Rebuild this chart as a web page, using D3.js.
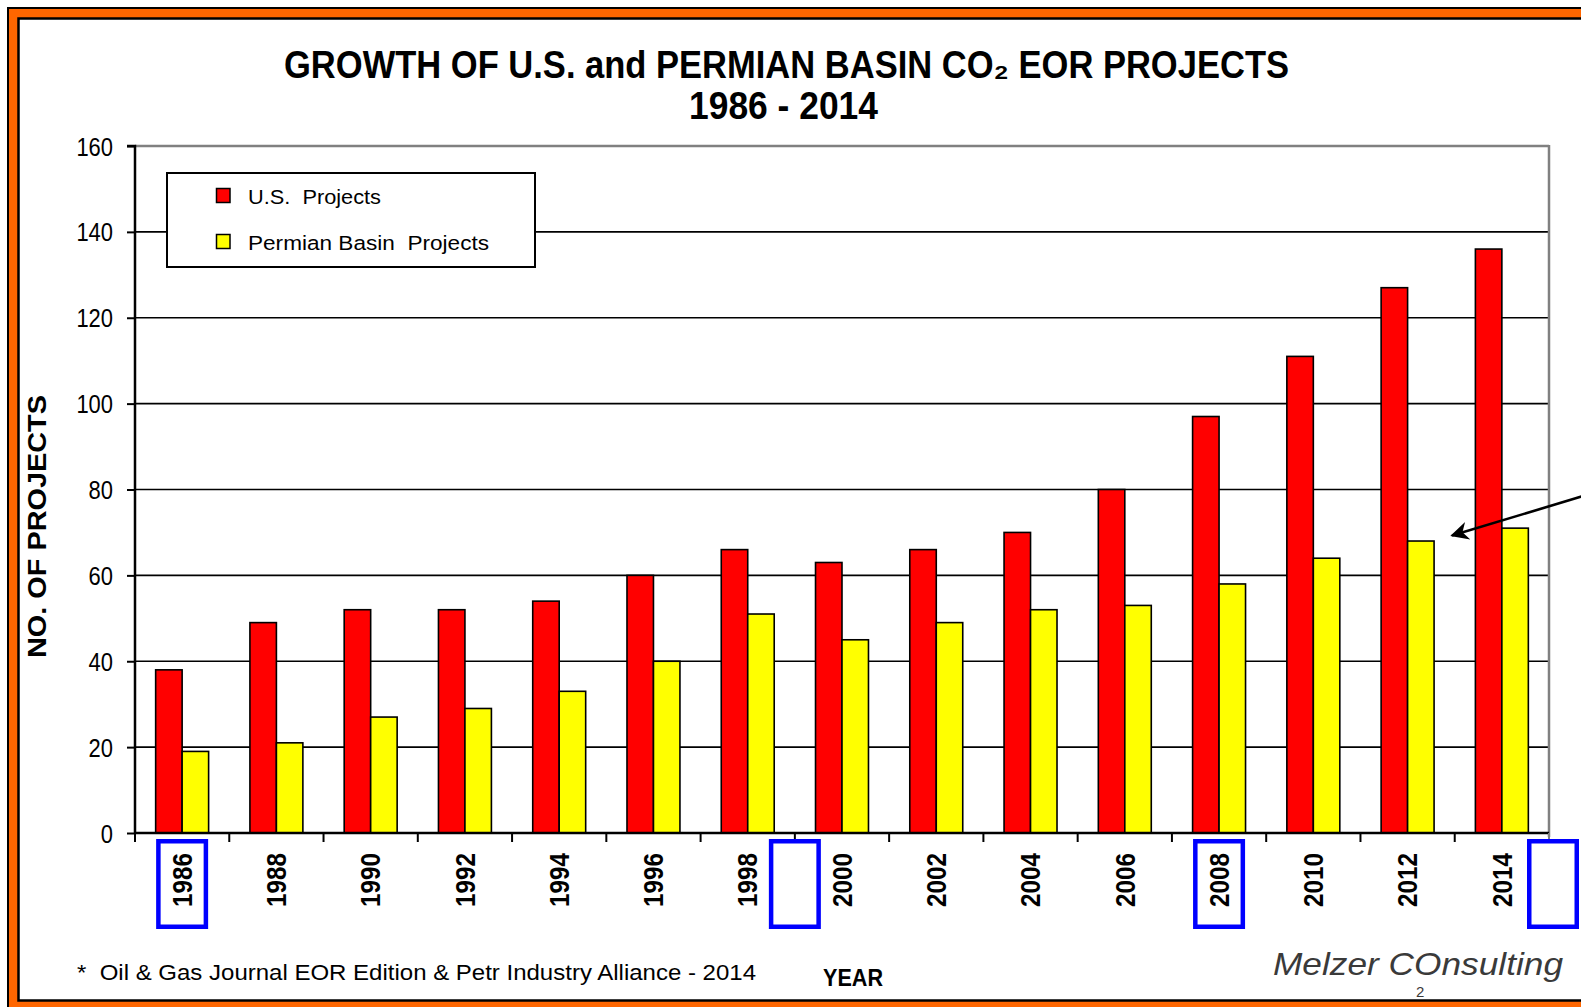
<!DOCTYPE html>
<html>
<head>
<meta charset="utf-8">
<script src="https://cdn.jsdelivr.net/npm/d3@7"></script>
<style>
html,body{margin:0;padding:0;background:#fff;overflow:hidden;}
svg{display:block;}
text{font-family:"Liberation Sans",Arial,sans-serif;}
</style>
</head>
<body>
<svg id="chart" width="1581" height="1007"></svg>
<script>
// ---------------- data ----------------
const years = ["1986","1988","1990","1992","1994","1996","1998","2000","2002","2004","2006","2008","2010","2012","2014"];
const usProjects      = [38,49,52,52,54,60,66,63,66,70,80,97,111,127,136];
const permianProjects = [19,21,27,29,33,40,51,45,49,52,53,58,64,68,71];
const seriesNames = ["U.S.  Projects","Permian Basin  Projects"];
const seriesColors = ["#FF0000","#FFFF00"];
const yTicks = [0,20,40,60,80,100,120,140,160];
// highlight boxes under the x axis: year + where on the band ("center" or "end")
const highlightYears = ["1986","1998","2008","2014"];
const highlightAnchor = ["center","end","center","end"];

// ---------------- layout ----------------
const svg = d3.select("#chart");
const plot = {left:135, right:1549, top:146, bottom:833};

// frame
svg.append("rect").attr("x",8).attr("y",8).attr("width",1700).attr("height",1100)
  .attr("fill","#FF6600").attr("stroke","#000").attr("stroke-width",2);
svg.append("rect").attr("x",18.5).attr("y",18.5).attr("width",1700).attr("height",982)
  .attr("fill","#fff").attr("stroke","#000").attr("stroke-width",2.5);

// scales
const x0 = d3.scaleBand().domain(years).range([plot.left, plot.right]).padding(0);
const x1 = d3.scaleBand().domain([0,1]).range([0, x0.bandwidth()]).paddingInner(0).paddingOuter(0.78);
const y = d3.scaleLinear().domain([0,160]).range([plot.bottom, plot.top]);

// gridlines
const grid = svg.append("g");
grid.selectAll("line").data(yTicks.filter(d=>d>0)).join("line")
  .attr("x1",plot.left).attr("x2",plot.right)
  .attr("y1",d=>y(d)).attr("y2",d=>y(d))
  .attr("stroke",d=>d===160?"#808080":"#000")
  .attr("stroke-width",d=>d===160?2.5:1.6);
// right border
svg.append("line").attr("x1",plot.right).attr("x2",plot.right)
  .attr("y1",plot.top-1).attr("y2",plot.bottom+4)
  .attr("stroke","#808080").attr("stroke-width",2.5);

// bars
const groups = svg.append("g").selectAll("g").data(years).join("g")
  .attr("transform",d=>`translate(${x0(d)},0)`);
groups.selectAll("rect").data((d,i)=>[usProjects[i], permianProjects[i]]).join("rect")
  .attr("x",(d,j)=>x1(j))
  .attr("width",x1.bandwidth())
  .attr("y",d=>y(d))
  .attr("height",d=>y(0)-y(d))
  .attr("fill",(d,j)=>seriesColors[j])
  .attr("stroke","#000").attr("stroke-width",1.6);

// y axis
const yAxis = svg.append("g").attr("transform",`translate(${plot.left},0)`)
  .call(d3.axisLeft(y).tickValues(yTicks).tickSize(8).tickPadding(14));
yAxis.select(".domain").attr("stroke","#000").attr("stroke-width",2.5).attr("d",`M-8,${y(160)}H0V${y(0)}`);
yAxis.selectAll(".tick line").attr("stroke","#000").attr("stroke-width",2);
yAxis.selectAll(".tick text")
  .attr("font-size",25).attr("fill","#000")
  .attr("font-family","Liberation Sans, Arial, sans-serif")
  .attr("dy","0.36em")
  .attr("textLength",d=>String(d).length*12.2)
  .attr("lengthAdjust","spacingAndGlyphs");

// x axis
const xAxis = svg.append("g").attr("transform",`translate(0,${plot.bottom})`)
  .call(d3.axisBottom(x0).tickSize(0).tickFormat(""));
xAxis.select(".domain").attr("stroke","#000").attr("stroke-width",2.5).attr("d",`M${plot.left},0H${plot.right}`);
xAxis.selectAll(".tick").remove();
// boundary ticks
const bounds = years.map(d=>x0(d)).concat([plot.right]);
xAxis.selectAll("line.bt").data(bounds).join("line").attr("class","bt")
  .attr("x1",d=>d).attr("x2",d=>d).attr("y1",0).attr("y2",9)
  .attr("stroke",(d,i)=>i===bounds.length-1?"#808080":"#000").attr("stroke-width",2);
// labels
svg.append("g").selectAll("text").data(years).join("text")
  .attr("transform",d=>`translate(${x0(d)+x0.bandwidth()/2},853) rotate(-90)`)
  .attr("text-anchor","end").attr("dy","0.36em")
  .attr("font-size",27).attr("font-weight","bold")
  .attr("textLength",54).attr("lengthAdjust","spacingAndGlyphs")
  .text(d=>d);

// highlight boxes
svg.append("g").selectAll("rect").data(highlightYears).join("rect")
  .attr("x",(d,i)=>x0(d)+(highlightAnchor[i]==="center"?x0.bandwidth()/2:x0.bandwidth())-23.75+(highlightAnchor[i]==="end"&&i===3?4:0))
  .attr("y",841.25).attr("width",47.5).attr("height",85.5)
  .attr("fill","none").attr("stroke","#0000FF").attr("stroke-width",4.5);

// legend
const lg = svg.append("g");
lg.append("rect").attr("x",167).attr("y",173).attr("width",368).attr("height",94)
  .attr("fill","#fff").attr("stroke","#000").attr("stroke-width",2);
const legendY = [196, 242];
const legendLen = [133, 241];
seriesNames.forEach((s,i)=>{
  lg.append("rect").attr("x",216.5).attr("y",legendY[i]-7.5).attr("width",13.5).attr("height",14)
    .attr("fill",seriesColors[i]).attr("stroke","#000").attr("stroke-width",1.5);
  lg.append("text").attr("x",248).attr("y",legendY[i]+8)
    .attr("font-size",20.5).style("white-space","pre")
    .attr("textLength",legendLen[i]).attr("lengthAdjust","spacingAndGlyphs")
    .text(s);
});

// title
svg.append("text").attr("x",284).attr("y",78)
  .attr("font-size",38).attr("font-weight","bold")
  .attr("textLength",1005).attr("lengthAdjust","spacingAndGlyphs")
  .text("GROWTH OF U.S. and PERMIAN BASIN CO\u2082 EOR PROJECTS");
svg.append("text").attr("x",689).attr("y",119)
  .attr("font-size",38).attr("font-weight","bold")
  .attr("textLength",189).attr("lengthAdjust","spacingAndGlyphs")
  .text("1986 - 2014");

// y axis title
svg.append("text").attr("transform","translate(37,526.5) rotate(-90)")
  .attr("text-anchor","middle").attr("dy","0.36em")
  .attr("font-size",25).attr("font-weight","bold")
  .attr("textLength",263).attr("lengthAdjust","spacingAndGlyphs")
  .text("NO. OF PROJECTS");

// x axis title
svg.append("text").attr("x",823).attr("y",986)
  .attr("font-size",24.5).attr("font-weight","bold")
  .attr("textLength",60).attr("lengthAdjust","spacingAndGlyphs")
  .text("YEAR");

// footnote
svg.append("text").attr("x",77).attr("y",980)
  .attr("font-size",22).style("white-space","pre")
  .attr("textLength",679).attr("lengthAdjust","spacingAndGlyphs")
  .text("*  Oil & Gas Journal EOR Edition & Petr Industry Alliance - 2014");

// signature
svg.append("text").attr("x",1273).attr("y",975)
  .attr("font-size",32).attr("font-style","italic").attr("fill","#3a3a3a")
  .attr("font-family","DejaVu Serif, serif")
  .attr("textLength",290).attr("lengthAdjust","spacingAndGlyphs")
  .text("Melzer COnsulting");
svg.append("text").attr("x",1416).attr("y",997)
  .attr("font-size",15).attr("fill","#3a3a3a").attr("font-family","DejaVu Serif, serif")
  .text("2");

// arrow
const defs = svg.append("defs");
defs.append("marker").attr("id","ah").attr("viewBox","0 0 10 10")
  .attr("refX",9).attr("refY",5).attr("markerWidth",8).attr("markerHeight",7)
  .attr("markerUnits","strokeWidth").attr("orient","auto")
  .append("path").attr("d","M0,0 L10,5 L0,10 L3,5 Z").attr("fill","#000");
svg.append("line").attr("x1",1620).attr("y1",485).attr("x2",1452).attr("y2",535.5)
  .attr("stroke","#000").attr("stroke-width",2.6).attr("marker-end","url(#ah)");
</script>
</body>
</html>
